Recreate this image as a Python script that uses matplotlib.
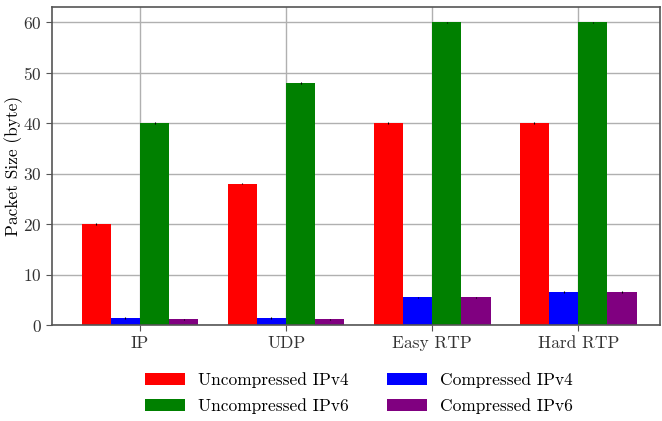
import matplotlib
matplotlib.use('Agg')
import matplotlib.pyplot as plt
import numpy as np

plt.rcParams['font.family'] = 'serif'
plt.rcParams['font.serif'] = ['cmr10', 'DejaVu Serif']
plt.rcParams['mathtext.fontset'] = 'cm'
plt.rcParams['axes.formatter.use_mathtext'] = True
plt.rcParams['font.size'] = 12.5

groups = ['IP', 'UDP', 'Easy RTP', 'Hard RTP']
series = ['Uncompressed IPv4', 'Compressed IPv4', 'Uncompressed IPv6', 'Compressed IPv6']
colors = ['red', 'blue', 'green', 'purple']

uncompressed_v4 = [20, 28, 40, 40]
compressed_v4 = [1.4, 1.4, 5.5, 6.5]
uncompressed_v6 = [40, 48, 60, 60]
compressed_v6 = [1.1, 1.1, 5.5, 6.5]
errors = [0.15, 0.15, 0.15, 0.15]

values = [uncompressed_v4, compressed_v4, uncompressed_v6, compressed_v6]

fig, ax = plt.subplots(figsize=(6.62, 4.21), dpi=100)
x = np.arange(len(groups))
w = 0.2
bars = []
for i, (vals, name, c) in enumerate(zip(values, series, colors)):
    b = ax.bar(x + (i - 1.5) * w, vals, w, color=c, label=name, zorder=2,
               yerr=errors, error_kw=dict(ecolor='black', elinewidth=0.8, capsize=0))
    bars.append(b)

ax.set_xticks(x)
ax.set_xticklabels(groups)
ax.set_xlim(-0.6, 3.56)
ax.set_ylim(0, 63)
ax.set_yticks(np.arange(0, 61, 10))
ax.set_ylabel('Packet Size (byte)', labelpad=0)
ax.grid(True, color='#b0b0b0', linewidth=1, zorder=0)
ax.set_axisbelow(True)
for s in ax.spines.values():
    s.set_color('#555555')
    s.set_linewidth(1.2)
ax.tick_params(colors='#555555', labelcolor='#333333', length=4)

# column-major fill: IPv4 pair on the first row, IPv6 pair on the second
order = [0, 2, 1, 3]
ax.legend([bars[i] for i in order], [series[i] for i in order],
          loc='upper center', bbox_to_anchor=(0.505, -0.1), ncol=2, frameon=False,
          fontsize=12.5, handlelength=2.3, columnspacing=2.2, handletextpad=0.75,
          labelspacing=0.6)

fig.subplots_adjust(left=0.079, right=0.997, top=0.983, bottom=0.228)
fig.savefig('out.png', dpi=100)
